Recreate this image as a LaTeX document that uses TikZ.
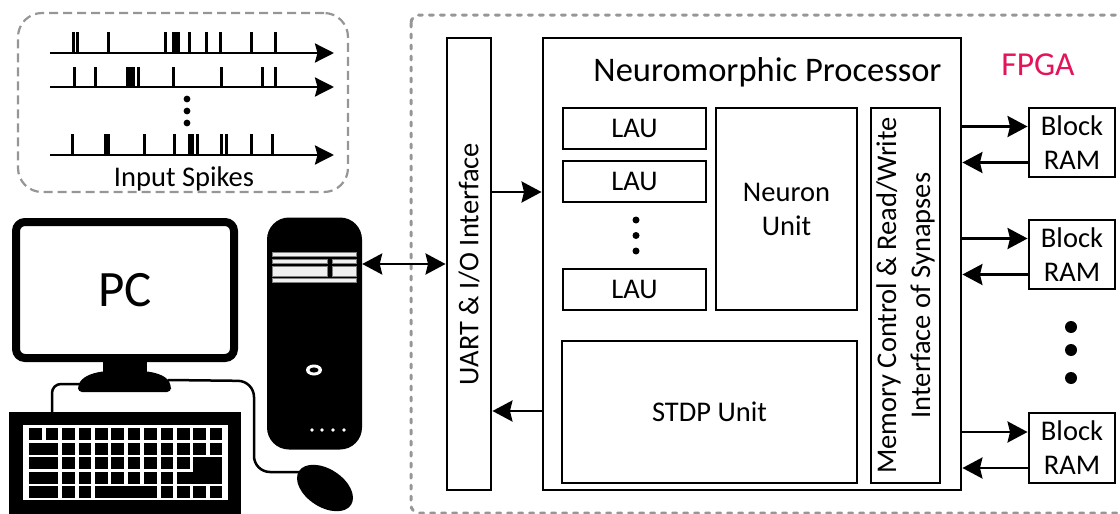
\documentclass[tikz,border=0pt]{standalone}
\usepackage{fontspec}
\setmainfont{Carlito}
\usetikzlibrary{arrows.meta}
\definecolor{dashgray}{RGB}{150,150,150}
\definecolor{fpgared}{RGB}{228,20,90}
\newcommand{\kbkey}[3]{\fill (29.3+16.4*#1,428+14.5*#3) rectangle (42+16.4*#2,440+14.5*#3);}
\tikzset{
  lbl/.style={font=\fontsize{28.5}{34}\selectfont, align=center, inner sep=0pt},
  box/.style={draw, line width=2.9pt, lbl},
  arr/.style={line width=2.7pt, -{Stealth[length=20pt,width=21pt,inset=2.5pt]}},
  biarr/.style={line width=2.7pt, {Stealth[length=20pt,width=21pt,inset=2.5pt]}-{Stealth[length=20pt,width=21pt,inset=2.5pt]}},
  spikeline/.style={line width=2.7pt, -{Stealth[length=19pt,width=19pt,inset=2.5pt]}},
  spike/.style={line width=3pt},
  spikebox/.style={draw=dashgray, line width=2.2pt, dash pattern=on 9pt off 5pt, rounded corners=24pt},
  fpgaline/.style={draw=dashgray, line width=3pt, line cap=round, dash pattern=on 4pt off 7pt, rounded corners=8pt},
  monitor/.style={draw, line width=8pt, rounded corners=9pt, font=\fontsize{51}{54}\selectfont},
  tower/.style={fill=black, rounded corners=22pt},
  bay/.style={fill=white!94!black, draw=gray, line width=0.6pt},
}
\begin{document}
\begin{tikzpicture}[x=1pt,y=-1pt]
\useasboundingbox (0,0) rectangle (1120,514);
\clip (0,0) rectangle (1120,514);

% spike trains
\node[spikebox, minimum width=330pt, minimum height=179pt] (spikes) at (183,102.5) {};
\foreach \s in {73,77,108,165,173,176,178,189,206,220,251,275}
  \draw[spike] (\s,53) -- (\s,32);
\foreach \s in {74,95,127,130,133,138,173,221,262,275}
  \draw[spike] (\s,87) -- (\s,67);
\foreach \s in {72,105,108,144,174,189,192,197,221,226,251,272}
  \draw[spike] (\s,155) -- (\s,134);
\draw[spikeline] (50,53) -- (334,53);
\draw[spikeline] (50,87) -- (334,87);
\draw[spikeline] (50,155) -- (334,155);
\foreach \y in {99,111,123}
  \fill (187,\y) circle (3.4pt);
\node[lbl, anchor=base] (inspikes) at (184,186) {Input Spikes};

% PC
\node[monitor, minimum width=218pt, minimum height=136pt] (pc) at (125,290) {PC};
\fill (103,360) rectangle (147,372);
\fill[rounded corners=4pt] (78,392) -- (78,385) .. controls (84,376) and (94,372) .. (110,371)
  -- (140,371) .. controls (156,372) and (166,376) .. (171,385) -- (171,392) -- cycle;
\draw[line width=2.5pt, rounded corners=9pt] (52,413) -- (52,384) -- (82,384);
\draw[line width=2.5pt, rounded corners=16pt] (168,380) -- (254,381) -- (254,472) -- (302,472);
\fill[rotate around={-33:(325,488)}] (325,488) ellipse [x radius=31pt, y radius=19pt];
\fill (9,412) rectangle (241,530);
\fill[white] (23,425) rectangle (228,500);
\foreach \c in {0,...,11} {\kbkey{\c}{\c}{0}}
\kbkey{0}{1}{1}
\foreach \c in {2,...,11} {\kbkey{\c}{\c}{1}}
\kbkey{0}{1}{2}
\foreach \c in {2,...,9} {\kbkey{\c}{\c}{2}}
\fill (29.3+16.4*10,428+14.5*2) rectangle (42+16.4*11,440+14.5*3);
\kbkey{0}{1}{3}
\foreach \c in {2,...,8} {\kbkey{\c}{\c}{3}}
\kbkey{9}{11}{3}
\kbkey{0}{1}{4}
\kbkey{2}{2}{4}
\kbkey{3}{3}{4}
\kbkey{4}{7}{4}
\foreach \c in {8,...,11} {\kbkey{\c}{\c}{4}}

\node[tower, minimum width=95pt, minimum height=232pt] (tower) at (314.5,333.5) {};
\draw[bay] (272,252.3) rectangle (356,256);
\draw[bay] (272,259.3) rectangle (327,263.3);
\draw[bay] (332,259.3) rectangle (356,263.3);
\draw[bay] (272,266) rectangle (327,276);
\draw[bay] (332,266) rectangle (356,276);
\draw[bay] (272,278.3) rectangle (356,282.7);
\fill[white] (314,370) ellipse [x radius=8pt, y radius=5.5pt];
\fill (314,370) ellipse [x radius=4.5pt, y radius=2.6pt];
\foreach \x in {312,322,333,344}
  \fill[white] (\x,430) circle (1.9pt);

% FPGA
\draw[fpgaline] (411,15) rectangle (1160,513);
\node[lbl, anchor=base, text=fpgared, font=\fontsize{33.5}{36}\selectfont] (fpga) at (1038,75) {FPGA};

\node[box, minimum width=44pt, minimum height=452pt] (uart) at (469,264) {};
\node[lbl, rotate=90] (uartlbl) at (uart) {UART \& I/O Interface};
\node[box, minimum width=418pt, minimum height=452pt] (np) at (752,264) {};
\node[lbl, anchor=base, font=\fontsize{34.5}{36}\selectfont] (nptitle) at (767.5,81) {Neuromorphic Processor};

\node[box, minimum width=143pt, minimum height=41pt] (lau1) at (634.5,128.5) {LAU};
\node[box, minimum width=143pt, minimum height=41pt] (lau2) at (634.5,181.5) {LAU};
\node[box, minimum width=143pt, minimum height=41pt] (lau3) at (634.5,289.5) {LAU};
\foreach \y in {220,235.5,251}
  \fill (636,\y) circle (3.5pt);
\node[box, minimum width=141pt, minimum height=202pt] (neuron) at (786.5,209) {Neuron\\Unit};
\node[box, minimum width=295pt, minimum height=142pt] (stdp) at (709.5,412) {STDP Unit};
\node[box, minimum width=69pt, minimum height=375pt] (mem) at (905.5,295.5) {};
\node[lbl, rotate=90] (memlbl) at (mem) {Memory Control \& Read/Write\\Interface of Synapses};

\node[box, minimum width=86pt, minimum height=69pt] (ram1) at (1072,142.5) {Block\\RAM};
\node[box, minimum width=86pt, minimum height=69pt] (ram2) at (1072,254.5) {Block\\RAM};
\node[box, minimum width=86pt, minimum height=70pt] (ram3) at (1072,448) {Block\\RAM};
\foreach \y in {327,350,378}
  \fill (1071,\y) circle (6pt);

\draw[arr] ([yshift=72pt]uart.east) -- ([yshift=72pt]np.west);
\draw[arr] ([yshift=-147pt]np.west) -- ([yshift=-147pt]uart.east);
\draw[biarr] (tower.east |- uart.west) -- (uart.west);
\foreach \r in {ram1,ram2,ram3}{
  \coordinate (in\r) at ([yshift=16pt]\r.west);
  \coordinate (out\r) at ([yshift=-20pt]\r.west);
  \draw[arr] (np.east |- in\r) -- (in\r);
  \draw[arr] (out\r) -- (np.east |- out\r);
}
\end{tikzpicture}
\end{document}
